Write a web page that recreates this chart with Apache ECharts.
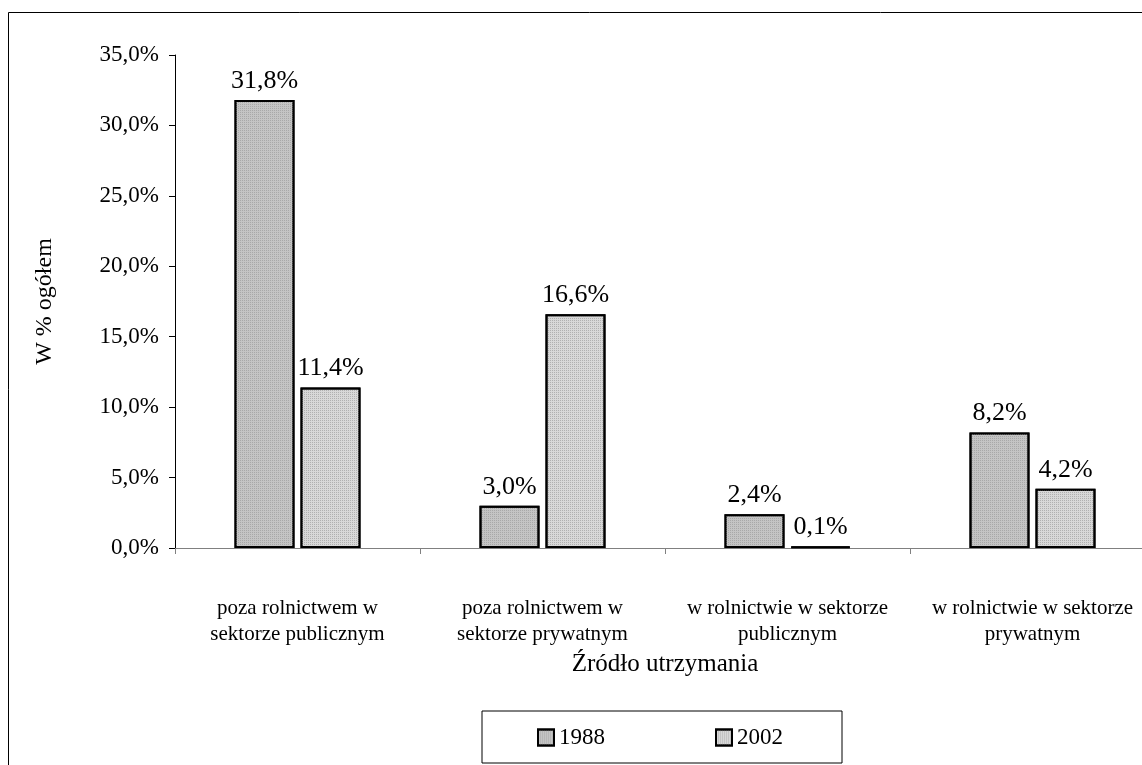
<!DOCTYPE html>
<html><head><meta charset="utf-8">
<script src="https://cdn.jsdelivr.net/npm/echarts@6/dist/echarts.min.js"></script>
<style>html,body{margin:0;padding:0;background:#fff;overflow:hidden}#c{width:1170px;height:765px}</style>
</head><body><div id="c"></div>
<script>
const categories = ["poza rolnictwem w\nsektorze publicznym","poza rolnictwem w\nsektorze prywatnym","w rolnictwie w sektorze\npublicznym","w rolnictwie w sektorze\nprywatnym"];
const series1988 = [31.8, 3.0, 2.4, 8.2];
const series2002 = [11.4, 16.6, 0.1, 4.2];
const seriesNames = ["1988","2002"];
const yTicks = [0,5,10,15,20,25,30,35];

const font = "'Liberation Serif', 'DejaVu Serif', serif";
const fmt = v => v.toFixed(1).replace('.', ',') + '%';
const chart = echarts.init(document.getElementById('c'));
function mkSeries(name, data, color, decalColor) {
  return {
    name, type: 'bar', data, barWidth: 60, barGap: '10%',
    itemStyle: { color: color, borderColor: '#000', borderWidth: 2,
      decal: { symbol: 'rect', symbolSize: 1, dashArrayX: [1, 1], dashArrayY: [1, 1], color: decalColor, rotation: 0 } },
    label: { show: true, position: 'top', distance: 6, formatter: p => fmt(p.value),
      fontFamily: font, fontSize: 26, color: '#000' }
  };
}
chart.setOption({
  animation: false,
  aria: { enabled: false },
  grid: { left: 175, top: 55, width: 980, bottom: 217, containLabel: false },
  graphic: [{ type: 'rect', shape: { x: 8.5, y: 12.5, width: 1300, height: 900 }, style: { fill: 'none', stroke: '#000', lineWidth: 1 }, silent: true }],
  legend: {
    data: seriesNames, left: 482, top: 711, orient: 'horizontal',
    borderColor: '#000', borderWidth: 1, padding: [15, 59, 14, 55],
    itemWidth: 16, itemHeight: 16, itemGap: 110,
    itemStyle: { borderColor: '#000', borderWidth: 2 },
    textStyle: { fontFamily: font, fontSize: 23, color: '#000' },
    icon: 'rect'
  },
  xAxis: {
    type: 'category', data: categories,
    name: 'Źródło utrzymania', nameLocation: 'middle', nameGap: 101,
    nameTextStyle: { fontFamily: font, fontSize: 25, color: '#000' },
    axisLine: { lineStyle: { color: '#808080', width: 1 } },
    axisTick: { show: true, length: 6, lineStyle: { color: '#808080' } },
    axisLabel: { fontFamily: font, fontSize: 21, color: '#000', margin: 47, lineHeight: 26, interval: 0 }
  },
  yAxis: {
    type: 'value', min: 0, max: 35, interval: 5,
    name: 'W % ogółem', nameLocation: 'middle', nameGap: 118, nameRotate: 90,
    nameTextStyle: { fontFamily: font, fontSize: 24, color: '#000' },
    axisLine: { show: true, lineStyle: { color: '#000', width: 1 } },
    axisTick: { show: true, length: 6, inside: false, lineStyle: { color: '#000' } },
    splitLine: { show: false },
    axisLabel: { fontFamily: font, fontSize: 23, color: '#000', margin: 16, formatter: v => fmt(v) }
  },
  series: [
    mkSeries(seriesNames[0], series1988, '#c4c4c4', '#a8a8a8'),
    mkSeries(seriesNames[1], series2002, '#d8d8d8', '#b0b0b0')
  ]
});
</script></body></html>
